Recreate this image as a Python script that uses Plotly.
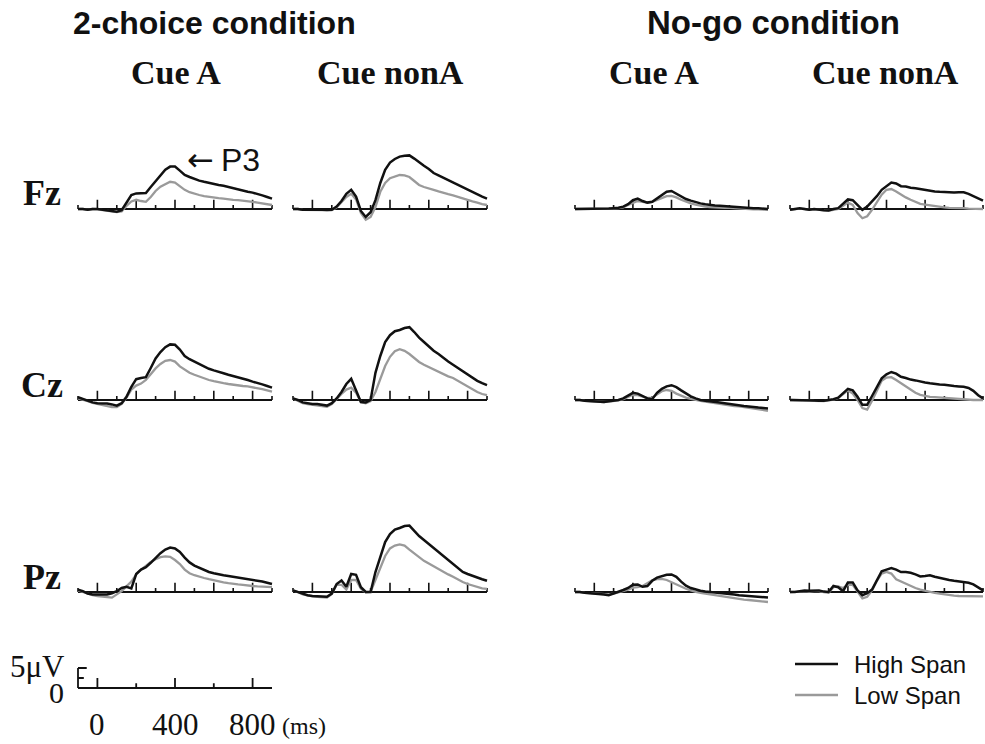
import plotly.graph_objects as go

W, H = 985, 744

# ---------------- data (µV, positive up) ----------------
TIME_MS = [-100, -75, -50, -25, 0, 25, 50, 75, 100, 125, 150, 175, 200, 225, 250, 275, 300,
           325, 350, 375, 400, 425, 450, 475, 500, 525, 550, 575, 600, 625, 650, 675, 700,
           725, 750, 775, 800, 825, 850, 875, 900]

# 2-choice condition, Cue A
FZ_2C_A_HIGH = [0, 0, -0.2, 0, 0, -0.2, -0.3, -0.5, -0.7, -0.3, 1.5, 3.5, 3.9, 3.9, 4.0, 5.5, 7.0,
                8.5, 9.8, 10.6, 10.6, 9.6, 8.5, 8.0, 7.5, 7.1, 6.8, 6.5, 6.3, 6.0, 5.8, 5.5, 5.1,
                4.9, 4.6, 4.3, 4.1, 3.8, 3.4, 3.0, 2.6]
FZ_2C_A_LOW = [0, 0, -0.2, 0, -0.1, -0.3, -0.4, -0.6, -0.8, -0.6, 0.8, 1.9, 2.3, 2.0, 1.8, 3.0, 4.5,
               5.6, 6.3, 6.8, 6.6, 5.6, 4.8, 4.2, 3.8, 3.5, 3.2, 3.0, 2.8, 2.7, 2.6, 2.4, 2.3,
               2.2, 2.1, 1.9, 1.8, 1.6, 1.4, 1.2, 1.0]
CZ_2C_A_HIGH = [0.7, 0.2, -0.3, -0.6, -0.8, -0.8, -0.9, -1.1, -1.4, -0.8, 0.8, 3.3, 5.2, 5.5, 5.7, 8.0, 10.4,
                12.0, 13.2, 13.9, 13.8, 12.6, 11.0, 10.2, 9.6, 8.8, 8.2, 7.8, 7.4, 7.1, 6.7, 6.3, 6.0,
                5.7, 5.3, 5.0, 4.6, 4.3, 3.9, 3.5, 3.1]
CZ_2C_A_LOW = [0.4, 0.1, -0.3, -0.7, -1.0, -1.2, -1.5, -1.8, -1.8, -1.0, 0.6, 2.6, 3.6, 4.1, 5.0, 6.5, 7.9,
               9.0, 9.8, 10.0, 9.6, 8.4, 7.5, 6.8, 6.3, 5.8, 5.3, 5.0, 4.7, 4.4, 4.2, 4.0, 3.8,
               3.7, 3.5, 3.4, 3.2, 3.0, 2.7, 2.4, 2.1]
PZ_2C_A_HIGH = [0.6, 0.2, -0.4, -0.6, -0.6, -0.6, -0.6, -0.3, 0.2, 1.0, 1.3, 0.9, 4.5, 5.6, 6.2, 7.3, 8.5,
                9.7, 10.6, 11.1, 10.9, 10.0, 8.6, 7.4, 6.6, 6.0, 5.4, 5.0, 4.7, 4.4, 4.2, 4.0, 3.8,
                3.6, 3.5, 3.3, 3.1, 2.9, 2.6, 2.3, 2.0]
PZ_2C_A_LOW = [0.4, 0.0, -0.5, -0.8, -1.0, -1.1, -1.3, -1.4, -0.6, 0.2, 1.4, 2.6, 4.4, 5.6, 6.5, 7.5, 8.2,
               8.7, 8.9, 8.8, 8.0, 7.0, 5.6, 4.7, 4.2, 3.8, 3.5, 3.2, 2.9, 2.6, 2.4, 2.2, 2.0,
               1.9, 1.8, 1.6, 1.5, 1.4, 1.3, 1.3, 1.2]

# 2-choice condition, Cue nonA
FZ_2C_N_HIGH = [0, 0, -0.2, -0.2, -0.2, -0.3, -0.2, -0.3, -0.2, 0.6, 2.0, 3.8, 4.8, 3.1, -0.5, -2.0, -0.8,
                2.2, 6.5, 9.8, 11.6, 12.5, 13.1, 13.3, 13.4, 12.6, 11.6, 10.8, 10.0, 9.0, 8.4, 7.8, 7.2,
                6.6, 6.0, 5.3, 4.7, 4.2, 3.6, 3.1, 2.6]
FZ_2C_N_LOW = [0, 0, -0.2, -0.2, -0.2, -0.3, -0.3, -0.4, -0.3, 0.4, 1.6, 3.0, 3.8, 2.4, -1.0, -2.7, -2.0,
               0.5, 4.3, 6.5, 7.7, 8.2, 8.5, 8.4, 8.0, 7.0, 6.0, 5.5, 5.2, 4.8, 4.4, 4.0, 3.7,
               3.4, 3.0, 2.6, 2.3, 1.9, 1.6, 1.2, 1.0]
CZ_2C_N_HIGH = [0.4, 0.0, -0.6, -0.8, -1.0, -1.0, -1.2, -1.4, -0.8, 0.4, 2.0, 4.0, 5.3, 2.6, -0.5, -0.6, 0.0,
                6.8, 11.0, 14.5, 16.2, 17.2, 17.5, 18.0, 18.2, 17.0, 15.6, 14.5, 13.4, 12.3, 11.5, 10.5, 9.6,
                8.8, 8.0, 7.0, 6.2, 5.4, 4.8, 4.2, 3.7]
CZ_2C_N_LOW = [0.4, -0.2, -0.8, -1.0, -1.2, -1.3, -1.5, -1.7, -1.0, 0.3, 1.5, 2.6, 3.1, 1.8, -0.5, -0.8, -0.3,
               2.0, 5.2, 8.5, 10.8, 12.2, 12.7, 12.3, 11.5, 10.5, 9.5, 8.8, 8.2, 7.6, 7.0, 6.3, 5.9,
               5.5, 4.8, 4.0, 3.3, 2.6, 2.0, 1.5, 1.2]
PZ_2C_N_HIGH = [0.4, 0.0, -0.5, -0.8, -1.0, -1.0, -1.1, -1.2, -0.4, 2.0, 2.9, 1.3, 4.5, 4.3, 1.2, 0.0, 0.0,
                5.0, 9.0, 12.5, 14.5, 15.6, 16.0, 16.5, 16.6, 15.2, 14.0, 13.0, 12.0, 11.0, 10.0, 9.2, 8.2,
                7.2, 6.2, 5.0, 4.5, 4.0, 3.6, 3.2, 2.8]
PZ_2C_N_LOW = [0.4, 0.0, -0.6, -0.9, -1.1, -1.2, -1.3, -1.4, -0.5, 1.8, 1.8, 0.6, 3.0, 3.0, 0.8, -0.1, 0.0,
               3.0, 6.4, 9.0, 10.9, 11.6, 11.9, 11.6, 10.6, 9.6, 8.6, 7.8, 7.1, 6.4, 5.6, 4.9, 4.4,
               3.8, 3.1, 2.5, 2.0, 1.6, 1.2, 0.9, 0.8]

# No-go condition, Cue A
FZ_NG_A_HIGH = [0, 0, 0, 0, 0, 0.1, 0, 0.1, 0.2, 0.3, 0.6, 1.2, 2.2, 2.6, 2.0, 1.6, 1.8,
                2.7, 3.6, 4.3, 4.5, 3.8, 3.0, 2.5, 2.1, 1.7, 1.4, 1.2, 1.0, 0.9, 0.8, 0.7, 0.6,
                0.5, 0.5, 0.4, 0.3, 0.2, 0.2, 0.1, 0.0]
FZ_NG_A_LOW = [0, 0, 0, 0, 0, 0, 0, 0.1, 0.1, 0.2, 0.4, 1.0, 1.6, 2.0, 1.8, 1.6, 1.8,
               2.3, 2.8, 3.2, 3.3, 2.9, 2.3, 1.8, 1.4, 1.1, 0.8, 0.6, 0.5, 0.4, 0.4, 0.3, 0.3,
               0.2, 0.1, 0.1, 0.0, -0.1, -0.1, -0.2, -0.2]
CZ_NG_A_HIGH = [0, 0, -0.2, -0.3, -0.3, -0.4, -0.5, -0.3, -0.2, 0.0, 0.4, 1.0, 1.8, 1.6, 1.0, 0.4, 0.2,
                1.8, 2.8, 3.4, 3.7, 3.2, 2.4, 1.6, 0.9, 0.4, 0.0, -0.2, -0.3, -0.4, -0.6, -0.8, -1.0,
                -1.1, -1.3, -1.5, -1.6, -1.8, -1.9, -2.0, -2.1]
CZ_NG_A_LOW = [0, 0, -0.2, -0.3, -0.4, -0.4, -0.5, -0.4, -0.3, -0.1, 0.2, 0.8, 1.3, 1.2, 0.8, 0.5, 0.6,
               1.5, 2.2, 2.5, 2.3, 1.6, 1.0, 0.6, 0.3, 0.0, -0.2, -0.4, -0.6, -0.8, -0.9, -1.1, -1.3,
               -1.5, -1.6, -1.8, -2.0, -2.2, -2.4, -2.5, -2.7]
PZ_NG_A_HIGH = [0, 0, -0.2, -0.3, -0.3, -0.4, -0.6, -0.8, -0.4, 0.0, 0.5, 1.0, 1.8, 1.9, 1.3, 1.5, 2.8,
                3.6, 4.0, 4.3, 4.4, 3.8, 2.6, 1.6, 1.0, 0.6, 0.3, 0.1, 0.0, -0.1, -0.2, -0.3, -0.5,
                -0.6, -0.8, -0.9, -1.1, -1.2, -1.3, -1.4, -1.4]
PZ_NG_A_LOW = [0, 0, -0.2, -0.3, -0.4, -0.4, -0.5, -0.6, -0.4, -0.1, 0.2, 0.6, 1.1, 1.2, 1.5, 2.3, 2.9,
               3.2, 3.3, 3.0, 2.4, 1.8, 1.3, 0.8, 0.4, 0.0, -0.2, -0.4, -0.6, -0.8, -1.0, -1.2, -1.4,
               -1.6, -1.8, -1.9, -2.0, -2.1, -2.3, -2.4, -2.5]

# No-go condition, Cue nonA
FZ_NG_N_HIGH = [-0.2, 0.0, 0.2, 0.0, -0.2, 0.0, -0.2, -0.3, -0.4, 0.0, 0.2, 1.2, 2.4, 2.2, 1.0, -0.2, 0.6,
                1.8, 3.2, 4.8, 5.8, 6.6, 6.4, 5.7, 5.6, 5.3, 5.2, 5.0, 4.7, 4.5, 4.4, 4.3, 4.2,
                4.1, 4.1, 4.2, 4.2, 3.8, 3.2, 2.6, 2.1]
FZ_NG_N_LOW = [-0.2, 0.0, 0.1, 0.0, -0.2, -0.1, -0.2, -0.3, -0.4, -0.2, 0.0, 0.8, 1.6, 1.0, -1.0, -2.3, -1.8,
               -0.2, 1.8, 3.6, 4.8, 5.0, 4.4, 3.6, 2.9, 2.3, 1.7, 1.3, 1.1, 0.9, 0.7, 0.5, 0.4,
               0.3, 0.3, 0.2, 0.2, 0.1, 0.1, 0.0, 0.0]
CZ_NG_N_HIGH = [0, 0, -0.1, 0, -0.1, -0.1, -0.2, -0.2, 0.0, 0.2, 0.6, 1.6, 2.8, 2.4, 0.8, -1.2, -1.2,
                1.0, 3.2, 5.4, 6.4, 7.0, 6.6, 5.8, 5.5, 5.1, 4.9, 4.6, 4.4, 4.2, 4.0, 3.9, 3.8,
                3.6, 3.5, 3.4, 3.3, 3.0, 2.3, 1.2, 0.4]
CZ_NG_N_LOW = [0, 0, -0.1, 0, -0.1, -0.2, -0.2, -0.3, -0.1, 0.1, 0.5, 1.4, 2.4, 1.6, 0.0, -2.0, -2.4,
               -0.2, 2.4, 4.8, 5.6, 5.7, 5.0, 4.2, 3.4, 2.5, 1.8, 1.3, 1.0, 0.8, 0.7, 0.6, 0.5,
               0.4, 0.3, 0.2, 0.2, 0.1, 0.0, 0.0, 0.0]
PZ_NG_N_HIGH = [0, 0, 0.2, 0.4, 0.3, 0.4, 0.4, 0.1, 0.0, 1.5, 1.2, 0.2, 2.4, 2.4, 0.4, -0.8, -0.3,
                0.6, 3.0, 5.2, 5.6, 6.0, 5.6, 5.0, 5.0, 4.8, 4.4, 3.9, 4.0, 4.2, 3.8, 3.5, 3.2,
                3.0, 2.8, 2.6, 2.5, 2.3, 1.9, 1.2, 0.4]
PZ_NG_N_LOW = [0, 0, 0.1, 0.2, 0.1, 0.2, 0.2, 0.0, -0.2, 1.2, 1.4, 1.0, 1.8, 1.8, 0.0, -1.6, -1.2,
               0.4, 2.8, 4.6, 5.0, 4.6, 3.2, 2.6, 2.0, 1.4, 1.0, 0.6, 0.3, 0.0, -0.2, -0.4, -0.6,
               -0.8, -0.9, -1.0, -1.0, -1.1, -1.1, -1.1, -1.1]

ELECTRODES = ["Fz", "Cz", "Pz"]
CONDITIONS = ["2-choice condition", "No-go condition"]
CUES = ["Cue A", "Cue nonA", "Cue A", "Cue nonA"]
SERIES_NAMES = ["High Span", "Low Span"]

HIGH = [[FZ_2C_A_HIGH, FZ_2C_N_HIGH, FZ_NG_A_HIGH, FZ_NG_N_HIGH],
        [CZ_2C_A_HIGH, CZ_2C_N_HIGH, CZ_NG_A_HIGH, CZ_NG_N_HIGH],
        [PZ_2C_A_HIGH, PZ_2C_N_HIGH, PZ_NG_A_HIGH, PZ_NG_N_HIGH]]
LOW = [[FZ_2C_A_LOW, FZ_2C_N_LOW, FZ_NG_A_LOW, FZ_NG_N_LOW],
       [CZ_2C_A_LOW, CZ_2C_N_LOW, CZ_NG_A_LOW, CZ_NG_N_LOW],
       [PZ_2C_A_LOW, PZ_2C_N_LOW, PZ_NG_A_LOW, PZ_NG_N_LOW]]

# time-axis tick marks of the panels
PANEL_TICKS_MS = [-100, 0, 100, 200, 300, 400, 500, 600, 700, 800, 900]
PANEL_TICK_LEN = [1.0, 2.3, 1.0, 2.3, 1.0, 2.3, 1.0, 2.3, 1.0, 2.3, 1.0]
# scale bar
SCALE_TICKS_MS = [0, 200, 400, 600, 800]
SCALE_TICK_LEN = [2.5, 1.2, 2.5, 1.2, 2.5]
SCALE_LABELS_MS = [0, 400, 800]
SCALE_UV = 5

# ---------------- layout geometry (pixels) ----------------
COL_X = [(78, 272), (293, 487), (575, 768), (790, 983)]
ROW_BASE = [209, 400, 592]
SCALE_BASE = 688
PX_PER_UV = 4.0
X_RANGE = (-100, 900)
PAD_MS = 8
Y_LO, Y_HI = -6, 24

BLACK = "#111111"
GRAY = "#9a9a9a"


def px(x):
    return min(max(x / W, 0), 1)


def py(y):
    return min(max(1 - y / H, 0), 1)


fig = go.Figure()
layout = {}


def add_axes(idx, col, base):
    x0, x1 = COL_X[col]
    ms_per_px = (X_RANGE[1] - X_RANGE[0]) / (x1 - x0)
    pad_px = PAD_MS / ms_per_px
    dom_x = [px(x0 - pad_px), px(x1 + pad_px)]
    top = base - Y_HI * PX_PER_UV
    bot = base - Y_LO * PX_PER_UV
    dom_y = [py(bot), py(top)]
    sfx = "" if idx == 1 else str(idx)
    layout["xaxis" + sfx] = dict(domain=dom_x, range=[X_RANGE[0] - PAD_MS, X_RANGE[1] + PAD_MS],
                                 visible=False, fixedrange=True)
    layout["yaxis" + sfx] = dict(domain=dom_y, range=[Y_LO, Y_HI], visible=False, fixedrange=True)
    return "x" + sfx, "y" + sfx


idx = 0
for r in range(3):
    for c in range(4):
        idx += 1
        xa, ya = add_axes(idx, c, ROW_BASE[r])
        fig.add_trace(go.Scatter(x=[PANEL_TICKS_MS[0], PANEL_TICKS_MS[-1]], y=[0, 0], mode="lines",
                                 line=dict(color=BLACK, width=2), xaxis=xa, yaxis=ya,
                                 showlegend=False, hoverinfo="skip"))
        tx, ty = [], []
        for t, L in zip(PANEL_TICKS_MS, PANEL_TICK_LEN):
            tx += [t, t, None]
            ty += [0, L, None]
        fig.add_trace(go.Scatter(x=tx, y=ty, mode="lines", line=dict(color=BLACK, width=1.6),
                                 xaxis=xa, yaxis=ya, showlegend=False, hoverinfo="skip"))
        fig.add_trace(go.Scatter(x=TIME_MS, y=LOW[r][c], mode="lines", name=SERIES_NAMES[1],
                                 line=dict(color=GRAY, width=2.3), xaxis=xa, yaxis=ya,
                                 showlegend=False))
        fig.add_trace(go.Scatter(x=TIME_MS, y=HIGH[r][c], mode="lines", name=SERIES_NAMES[0],
                                 line=dict(color=BLACK, width=2.5), xaxis=xa, yaxis=ya,
                                 showlegend=False))

# scale bar axes
idx += 1
xa, ya = add_axes(idx, 0, SCALE_BASE)
fig.add_trace(go.Scatter(x=[X_RANGE[0], X_RANGE[1]], y=[0, 0], mode="lines",
                         line=dict(color=BLACK, width=2), xaxis=xa, yaxis=ya,
                         showlegend=False, hoverinfo="skip"))
tx, ty = [], []
for t, L in zip(SCALE_TICKS_MS, SCALE_TICK_LEN):
    tx += [t, t, None]
    ty += [0, L, None]
# "E" shaped voltage bracket
tx += [X_RANGE[0], X_RANGE[0], None, X_RANGE[0], X_RANGE[0] + 45, None,
       X_RANGE[0], X_RANGE[0] + 30, None]
ty += [0, SCALE_UV, None, SCALE_UV, SCALE_UV, None, SCALE_UV / 2, SCALE_UV / 2, None]
fig.add_trace(go.Scatter(x=tx, y=ty, mode="lines", line=dict(color=BLACK, width=1.8),
                         xaxis=xa, yaxis=ya, showlegend=False, hoverinfo="skip"))

SANS = "Liberation Sans"
SERIF = "Liberation Serif"
ann = []


def text(x, y, s, size, family, weight="normal", xanchor="center", color="#111"):
    ann.append(dict(x=px(x), y=py(y), xref="paper", yref="paper", text=s, showarrow=False,
                    xanchor=xanchor, yanchor="middle",
                    font=dict(family=family, size=size, color=color, weight=weight)))


text(214, 23, CONDITIONS[0], 32, SANS, "bold")
text(773, 23, CONDITIONS[1], 33, SANS, "bold")
for xc, s in zip([176, 390, 654, 885], CUES):
    text(xc, 72, s, 34, SERIF, "bold")
for yc, s in zip([193, 385, 577], ELECTRODES):
    text(42, yc, s, 36, SERIF, "bold")
text(200, 160, "←", 32, "DejaVu Sans")
text(240, 160, "P3", 32, SANS)

# scale bar labels (positions via the scale axis mapping)
x0, x1 = COL_X[0]
for v in SCALE_LABELS_MS:
    xp = x0 + (v - X_RANGE[0]) / (X_RANGE[1] - X_RANGE[0]) * (x1 - x0)
    text(xp, 724, str(v), 31, SERIF)
text(304, 726, "(ms)", 24, SERIF)
text(37, 666, "5μV", 31, SERIF)
text(56, 692, "0", 30, SERIF)

# legend (sample lines + labels)
shapes = []
for yl, col, wd, name in [(664, BLACK, 2.5, SERIES_NAMES[0]), (695, GRAY, 2.3, SERIES_NAMES[1])]:
    shapes.append(dict(type="line", xref="paper", yref="paper", x0=px(795), x1=px(838),
                       y0=py(yl), y1=py(yl), line=dict(color=col, width=wd)))
    text(852, yl, name, 24, SANS, xanchor="left")

layout.update(dict(
    width=W, height=H, margin=dict(l=0, r=0, t=0, b=0),
    paper_bgcolor="white", plot_bgcolor="rgba(0,0,0,0)",
    annotations=ann, shapes=shapes, showlegend=False,
))
fig.update_layout(**layout)
fig.write_html("out.html", config={"displayModeBar": False},
               post_script="document.body.style.margin='0px';document.body.style.overflow='hidden';")
